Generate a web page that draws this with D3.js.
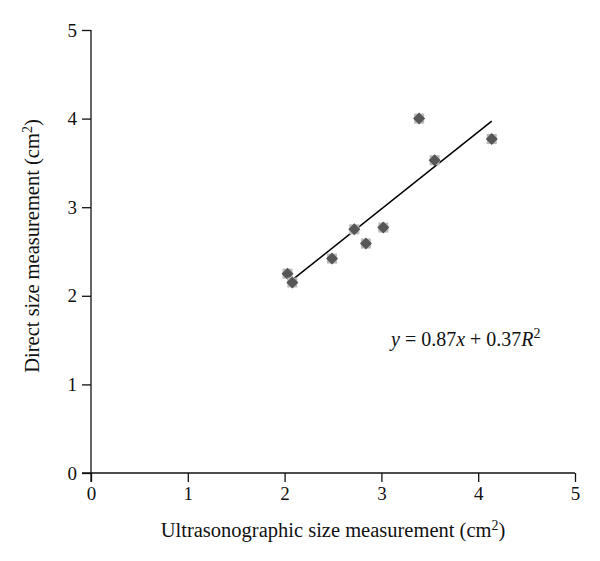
<!DOCTYPE html>
<html>
<head>
<meta charset="utf-8">
<script src="https://cdn.jsdelivr.net/npm/d3@7"></script>
<style>
  body { margin: 0; background: #fff; }
  text { font-family: "Liberation Serif", "DejaVu Serif", serif; fill: #111; }
</style>
</head>
<body>
<div class="chart"></div>
<script>
const width = 600;
const height = 561;

// ultrasonographic vs direct size (cm^2)
const ultrasound = [2.03, 2.08, 2.49, 2.72, 2.84, 3.02, 3.39, 3.55, 4.14];
const direct = [2.25, 2.15, 2.42, 2.75, 2.59, 2.77, 4.0, 3.53, 3.77];
const ticks = [0, 1, 2, 3, 4, 5];
const slope = 0.87;
const intercept = 0.37;
const fitRange = [2.05, 4.14];

const margin = { top: 30, right: 25, bottom: 88, left: 91 };

const x = d3.scaleLinear().domain([0, 5]).range([margin.left, width - margin.right]);
const y = d3.scaleLinear().domain([0, 5]).range([height - margin.bottom, margin.top]);

const svg = d3
  .select('.chart')
  .append('svg')
  .attr('width', width)
  .attr('height', height);

// x axis
const xAxis = svg
  .append('g')
  .attr('transform', `translate(0, ${y(0)})`)
  .call(d3.axisBottom(x).tickValues(ticks).tickFormat(d3.format('d')).tickSize(9).tickPadding(5).tickSizeOuter(0));
xAxis.select('.domain').attr('d', `M${x(0) - 9},0H${x(5)}`);

// y axis
const yAxis = svg
  .append('g')
  .attr('transform', `translate(${x(0)}, 0)`)
  .call(d3.axisLeft(y).tickValues(ticks).tickFormat(d3.format('d')).tickSize(9).tickPadding(5).tickSizeOuter(0));
yAxis.select('.domain').attr('d', `M0,${y(5)}V${y(0) + 9}`);

svg.selectAll('.tick text').attr('font-size', 19).attr('fill', '#111');
svg.selectAll('.domain, .tick line').attr('stroke', '#111').attr('stroke-width', 1.3);

// axis titles
const xt = svg
  .append('text')
  .attr('x', 333)
  .attr('y', 537)
  .attr('text-anchor', 'middle')
  .attr('font-size', 20.5);
xt.append('tspan').text('Ultrasonographic size measurement (cm');
xt.append('tspan').attr('dy', -7).attr('font-size', 14).text('2');
xt.append('tspan').attr('dy', 7).text(')');

const yt = svg
  .append('text')
  .attr('transform', `translate(39, 246) rotate(-90)`)
  .attr('text-anchor', 'middle')
  .attr('font-size', 20.5);
yt.append('tspan').text('Direct size measurement (cm');
yt.append('tspan').attr('dy', -7).attr('font-size', 14).text('2');
yt.append('tspan').attr('dy', 7).text(')');

// trend line
svg
  .append('line')
  .attr('x1', x(fitRange[0]))
  .attr('y1', y(slope * fitRange[0] + intercept))
  .attr('x2', x(fitRange[1]))
  .attr('y2', y(slope * fitRange[1] + intercept))
  .attr('stroke', '#000')
  .attr('stroke-width', 1.5);

// points: light square behind a dark diamond
const data = ultrasound.map((u, i) => ({ u: u, d: direct[i] }));
const pts = svg
  .selectAll('.pt')
  .data(data)
  .enter()
  .append('g')
  .attr('class', 'pt')
  .attr('transform', d => `translate(${x(d.u)}, ${y(d.d)})`);
pts
  .append('rect')
  .attr('x', -5)
  .attr('y', -5)
  .attr('width', 10)
  .attr('height', 10)
  .attr('fill', '#bababa');
pts
  .append('path')
  .attr('d', 'M0,-6L6,0L0,6L-6,0Z')
  .attr('fill', '#565656');

// equation
const eq = svg
  .append('text')
  .attr('x', 391)
  .attr('y', 346)
  .attr('font-size', 20);
eq.append('tspan').attr('font-style', 'italic').text('y');
eq.append('tspan').text(' = 0.87');
eq.append('tspan').attr('font-style', 'italic').text('x');
eq.append('tspan').text(' + 0.37');
eq.append('tspan').attr('font-style', 'italic').text('R');
eq.append('tspan').attr('dy', -8).attr('font-size', 14).text('2');
</script>
</body>
</html>
